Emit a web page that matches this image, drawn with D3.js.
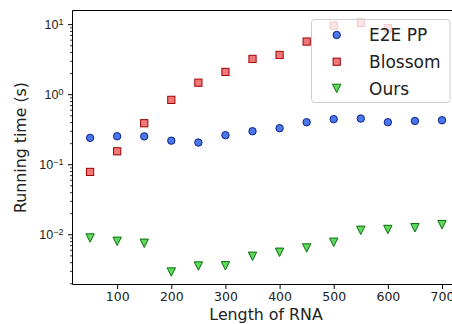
<!DOCTYPE html>
<html>
<head>
<meta charset="utf-8">
<script src="https://cdn.jsdelivr.net/npm/d3@7"></script>
<style>
  html, body { margin: 0; padding: 0; background: #fff; }
  svg { display: block; font-family: "DejaVu Sans", sans-serif; }
</style>
</head>
<body>
<div id="chart"></div>
<script>
// ---- data ----
const lengths = [50, 100, 150, 200, 250, 300, 350, 400, 450, 500, 550, 600, 650, 700];
const e2eValues = [0.238, 0.251, 0.25, 0.217, 0.204, 0.26, 0.296, 0.327, 0.398, 0.44, 0.449, 0.398, 0.415, 0.425];
const blossomLengths = [50, 100, 150, 200, 250, 300, 350, 400, 450, 500, 550, 600];
const blossomValues = [0.0777, 0.153, 0.385, 0.83, 1.46, 2.08, 3.19, 3.64, 5.64, 9.55, 10.4, 8.77];
const oursValues = [0.00885, 0.00794, 0.00744, 0.00289, 0.00352, 0.00355, 0.00485, 0.00553, 0.00637, 0.00769, 0.0114, 0.0117, 0.0124, 0.0137];
const xTicks = [100, 200, 300, 400, 500, 600, 700];
const yTickExponents = [-2, -1, 0, 1];
const seriesNames = ["E2E PP", "Blossom", "Ours"];
const xLabel = "Length of RNA";
const yLabel = "Running time (s)";

(function () {
const W = 452, H = 324;
const mLeft = 72.5, mRight = 459.6, mTop = 10.5, mBottom = 284.5;

const svg = d3.select("#chart").append("svg").attr("width", W).attr("height", H);

// x scale with matplotlib-like 5% margins
const xMin = d3.min(lengths), xMax = d3.max(lengths);
const xPad = (xMax - xMin) * 0.05;
const x = d3.scaleLinear().domain([xMin - xPad, xMax + xPad]).range([mLeft, mRight]);

// log y with 5% margins in log space
const allY = e2eValues.concat(blossomValues, oursValues);
const lmin = Math.log10(d3.min(allY)), lmax = Math.log10(d3.max(allY));
const lpad = (lmax - lmin) * 0.05;
const y = d3.scaleLog().domain([Math.pow(10, lmin - lpad), Math.pow(10, lmax + lpad)]).range([mBottom, mTop]);

const series = [
  { name: seriesNames[0], xs: lengths, ys: e2eValues, shape: "circle", fill: "#4a78e6", stroke: "#0a1f8f" },
  { name: seriesNames[1], xs: blossomLengths, ys: blossomValues, shape: "square", fill: "#f07878", stroke: "#a00000" },
  { name: seriesNames[2], xs: lengths, ys: oursValues, shape: "tri", fill: "#5ed85e", stroke: "#0b6e0b" }
];

function drawMarker(g, shape, cx, cy, s) {
  if (shape === "circle") {
    g.append("circle").attr("cx", cx).attr("cy", cy).attr("r", 3.7 * s);
  } else if (shape === "square") {
    const h = 3.6 * s;
    g.append("rect").attr("x", cx - h).attr("y", cy - h).attr("width", 2 * h).attr("height", 2 * h);
  } else {
    const h = 4.2 * s;
    g.append("path").attr("d", `M${cx - h},${cy - h}L${cx + h},${cy - h}L${cx},${cy + h}Z`);
  }
}

svg.append("clipPath").attr("id", "clip").append("rect")
  .attr("x", mLeft).attr("y", mTop).attr("width", mRight - mLeft).attr("height", mBottom - mTop);

const plot = svg.append("g").attr("clip-path", "url(#clip)");
series.forEach(s => {
  const g = plot.append("g").attr("fill", s.fill).attr("stroke", s.stroke).attr("stroke-width", 1);
  s.xs.forEach((xv, i) => drawMarker(g, s.shape, x(xv), y(s.ys[i]), 1));
});

// spines
[[mLeft, mTop, mRight, mTop], [mLeft, mBottom, mRight, mBottom], [mLeft, mTop, mLeft, mBottom], [mRight, mTop, mRight, mBottom]]
  .forEach(l => svg.append("line").attr("x1", l[0]).attr("y1", l[1]).attr("x2", l[2]).attr("y2", l[3])
    .attr("stroke", "#000").attr("stroke-width", 1));

// x axis
const xAxis = d3.axisBottom(x).tickValues(xTicks).tickSize(4.5).tickPadding(3).tickFormat(d3.format("d"));
const xg = svg.append("g").attr("transform", `translate(0,${mBottom})`).call(xAxis);
xg.select(".domain").remove();
xg.selectAll("text").attr("font-size", 12.5).attr("font-family", "DejaVu Sans").attr("fill", "#222");
xg.selectAll("line").attr("stroke", "#000");

// y axis major
const yMajor = yTickExponents.map(e => Math.pow(10, e));
const yAxis = d3.axisLeft(y).tickValues(yMajor).tickSize(4.5).tickPadding(3).tickFormat("");
const yg = svg.append("g").attr("transform", `translate(${mLeft},0)`).call(yAxis);
yg.select(".domain").remove();
yg.selectAll("line").attr("stroke", "#000");
yg.selectAll(".tick").each(function (d) {
  const e = Math.round(Math.log10(d));
  const t = d3.select(this).append("text").attr("x", -9).attr("dy", "0.35em").attr("text-anchor", "end")
    .attr("font-size", 12.5).attr("fill", "#222");
  t.append("tspan").text("10");
  t.append("tspan").attr("dy", "-0.45em").attr("font-size", 9).text(e < 0 ? "\u2212" + Math.abs(e) : String(e));
});

// y minor ticks
const [d0, d1] = y.domain();
const minor = [];
for (let e = Math.floor(Math.log10(d0)); e <= Math.ceil(Math.log10(d1)); e++) {
  for (let m = 2; m <= 9; m++) {
    const v = m * Math.pow(10, e);
    if (v >= d0 && v <= d1) minor.push(v);
  }
}
const ymg = svg.append("g").attr("transform", `translate(${mLeft},0)`)
  .call(d3.axisLeft(y).tickValues(minor).tickSize(2.5).tickFormat(""));
ymg.select(".domain").remove();
ymg.selectAll("line").attr("stroke", "#000").attr("stroke-width", 0.8);

// labels
svg.append("text").attr("x", (mLeft + mRight) / 2).attr("y", 320).attr("text-anchor", "middle")
  .attr("font-size", 15.8).attr("fill", "#222").text(xLabel);
svg.append("text").attr("transform", `translate(26,${(mTop + mBottom) / 2}) rotate(-90)`).attr("text-anchor", "middle")
  .attr("font-size", 15.8).attr("fill", "#222").text(yLabel);

// legend
const lg = svg.append("g");
lg.append("rect").attr("x", 311.5).attr("y", 19.5).attr("width", 138.5).attr("height", 83)
  .attr("rx", 3).attr("fill", "#fff").attr("fill-opacity", 0.8).attr("stroke", "#cccccc").attr("stroke-width", 1);
series.forEach((s, i) => {
  const cy = 35 + i * 26.7;
  const g = lg.append("g").attr("fill", s.fill).attr("stroke", s.stroke).attr("stroke-width", 1);
  drawMarker(g, s.shape, 336.7, cy, 1);
  lg.append("text").attr("x", 369).attr("y", cy + 6.2).attr("font-size", 17).attr("fill", "#222").text(s.name);
});
})();
</script>
</body>
</html>
